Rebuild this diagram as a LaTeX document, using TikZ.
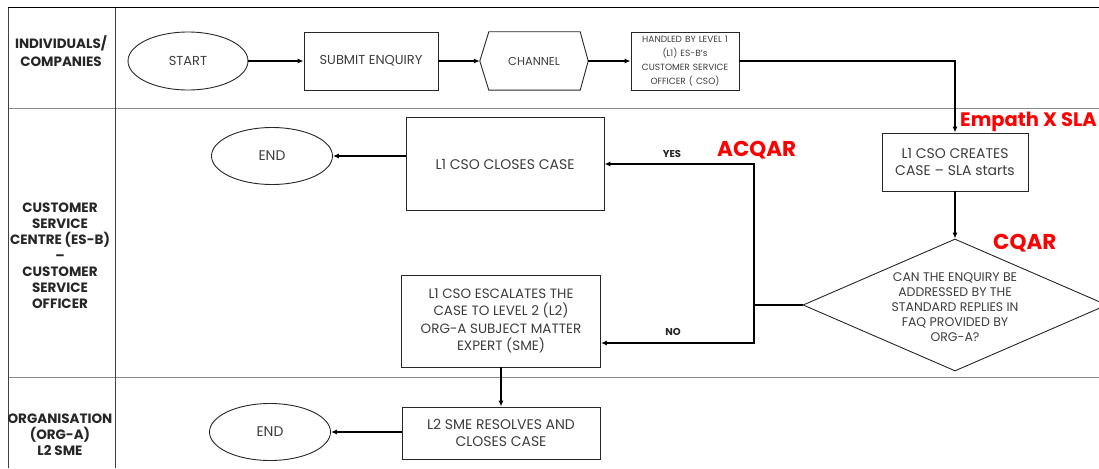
\documentclass[tikz,border=0pt]{standalone}
\usepackage{fontspec}
\setmainfont{Poppins}
\usetikzlibrary{arrows.meta,shapes.geometric,calc}

\definecolor{txt}{HTML}{3C3C3C}
\definecolor{lanegray}{HTML}{8A8A8A}
\definecolor{tag}{HTML}{FF0000}

\newcommand{\fs}[2]{\fontsize{#1}{#2}\selectfont}

\begin{document}
\begin{tikzpicture}[x=1pt,y=-1pt,
  every node/.style={text=txt},
  box/.style={draw=black!85, line width=0.9pt, align=center, inner sep=2pt},
  term/.style={ellipse, draw=black!85, line width=0.9pt, inner sep=0pt,
               minimum width=121pt, minimum height=57pt},
  arr/.style={-{Latex[length=6pt,width=5pt]}, line width=1.3pt, black},
  lanelabel/.style={font=\bfseries\fs{13.5}{16}, text=black!85, align=center},
  redtag/.style={font=\bfseries\fs{21.5}{24}, text=tag, anchor=west, inner sep=0pt},
  yn/.style={font=\bfseries\fs{10}{12}, text=black!85, inner sep=0pt}
]
\useasboundingbox (0,0) rectangle (1099,468);

% swimlane frame
\draw[black, line width=1pt] (8,8) -- (1099,8);
\draw[lanegray, line width=0.8pt] (8,108) -- (1099,108);
\draw[lanegray, line width=0.8pt] (8,377) -- (1099,377);
\draw[black!75, line width=0.8pt] (8,8) -- (8,468);
\draw[black!75, line width=0.8pt] (115,8) -- (115,468);

% lane titles
\node[lanelabel, text depth=0pt] (lane1) at (61,51) {INDIVIDUALS/\\[2pt]COMPANIES};
\node[lanelabel] (lane2) at (60,256) {CUSTOMER\\SERVICE\\CENTRE (ES-B)\\–\\CUSTOMER\\SERVICE\\OFFICER};
\node[lanelabel, inner sep=0pt] (lane3) at (60,435) {ORGANISATION\\(ORG-A)\\L2 SME};

% lane 1
\node[term, minimum width=120pt, minimum height=58pt, font=\fs{13}{15}] (start) at (188,61) {START};
\node[box, minimum width=134pt, minimum height=58pt, font=\fs{13}{15}] (submit) at (371,61) {SUBMIT ENQUIRY};
\node[minimum width=108pt, minimum height=58pt, inner sep=0pt, font=\fs{11.5}{15}] (channel) at (534,61) {CHANNEL};
\draw[black!85, line width=0.9pt]
  (channel.west) -- ($(channel.north west)+(9,0)$) -- ($(channel.north east)+(-8,0)$)
  -- (channel.east) -- ($(channel.south east)+(-8,0)$) -- ($(channel.south west)+(9,0)$) -- cycle;
\node[box, minimum width=108pt, minimum height=58pt, text width=104pt, inner sep=1pt, font=\fs{9}{14}] (handled) at (685,61)
  {HANDLED BY LEVEL 1\\(L1) ES-B's\\CUSTOMER SERVICE\\OFFICER ( CSO)};

% lane 2
\node[box, minimum width=146pt, minimum height=58pt, font=\fs{14}{17}] (creates) at (955,162) {L1 CSO CREATES\\CASE – SLA starts};
\node[diamond, draw=black!85, line width=0.9pt, minimum width=304pt, minimum height=132pt, inner sep=0pt] (decide) at (955,305) {};
\node[align=center, font=\fs{12.5}{15}] (question) at (955,307)
  {CAN THE ENQUIRY BE\\ADDRESSED BY THE\\STANDARD REPLIES IN\\FAQ PROVIDED BY\\ORG-A?};
\node[box, minimum width=198pt, minimum height=93pt, font=\fs{14}{15}] (closes) at (505,164) {L1 CSO CLOSES CASE};
\node[term] (end1) at (272,156) {\fs{14}{15}END};
\node[box, minimum width=199pt, minimum height=92pt, font=\fs{13.5}{17.5}] (escal) at (501,321)
  {L1 CSO ESCALATES THE\\CASE TO LEVEL 2 (L2)\\ORG-A SUBJECT MATTER\\EXPERT (SME)};

% lane 3
\node[box, minimum width=198pt, minimum height=52pt, font=\fs{14}{17}] (resolves) at (501,433) {L2 SME RESOLVES AND\\CLOSES CASE};
\node[term] (end2) at (270,432) {\fs{14}{15}END};

% red annotations
\node[redtag, font=\bfseries\fs{19.5}{22}] (empath) at (960,122) {Empath X SLA};
\node[redtag] (acqar) at (717,150) {ACQAR};
\node[redtag] (cqar) at (993,243) {CQAR};

% connectors
\coordinate (split) at (754,305);
\draw[arr] (start) -- (submit);
\draw[arr] (submit) -- (channel.west);
\draw[arr] (channel.east) -- (handled);
\draw[arr] (handled.east) -| (creates.north);
\draw[arr] (creates) -- (decide.north);
\draw[arr] (decide.west) -- (split) |- (closes.east);
\draw[arr] (split) |- ([yshift=-22pt]escal.east);
\draw[arr] (closes.west |- end1.east) -- (end1.east);
\draw[arr] (escal) -- (resolves);
\draw[arr] (resolves.west |- end2.east) -- (end2.east);

% branch labels
\node[yn] (yes) at (672,154) {YES};
\node[yn] (no) at (673,332) {NO};
\end{tikzpicture}
\end{document}
